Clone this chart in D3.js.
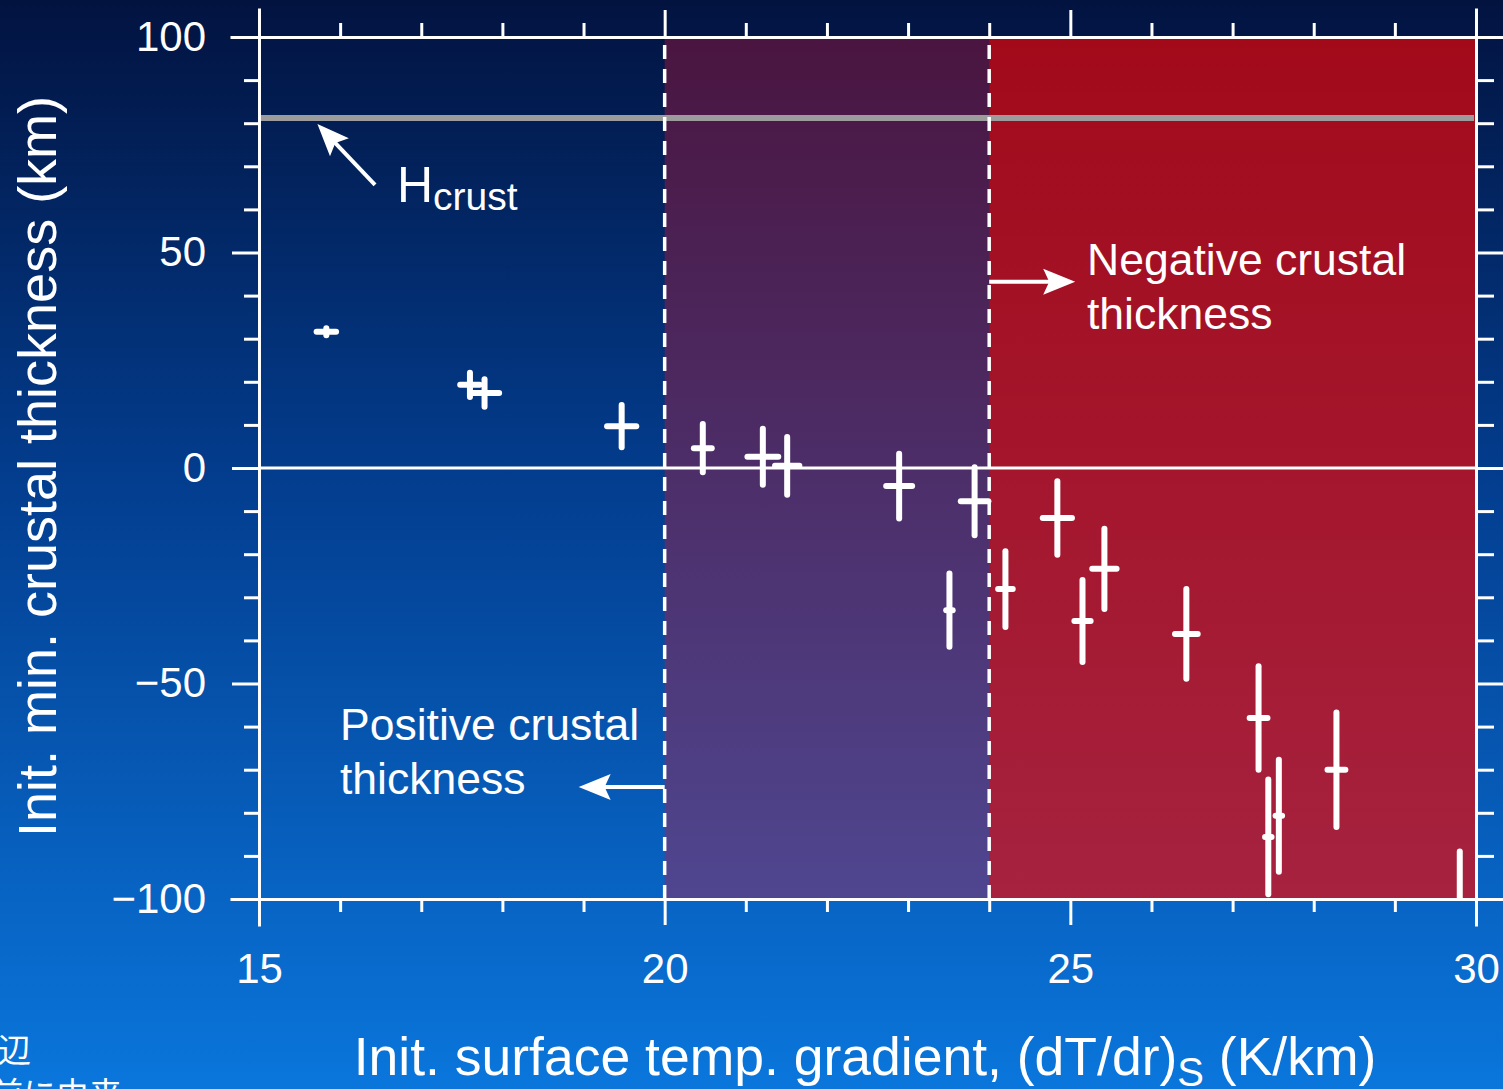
<!DOCTYPE html>
<html><head><meta charset="utf-8">
<script src="https://cdn.jsdelivr.net/npm/d3@7"></script>
<style>html,body{margin:0;padding:0;overflow:hidden;background:#0a4aa0}svg{display:block}</style>
</head><body>
<script>
// ---- data ----
const gradient = [15.83, 17.60, 17.78, 19.47, 20.47, 21.21, 21.51, 22.89, 23.82, 23.51, 24.20, 24.84, 25.15, 25.42, 26.43, 27.32, 27.44, 27.57, 28.28, 29.80];
const gradientErr = [0.12, 0.12, 0.18, 0.18, 0.11, 0.19, 0.15, 0.16, 0.17, 0.04, 0.09, 0.18, 0.10, 0.15, 0.14, 0.11, 0.04, 0.04, 0.11, 0.03];
const thickness = [31.6, 19.3, 17.4, 9.7, 4.6, 2.6, 0.5, -4.2, -7.7, -33.0, -28.1, -11.6, -35.5, -23.4, -38.5, -58.0, -85.6, -80.7, -70.0, -102.0];
const thicknessErr = [0.8, 2.8, 3.2, 4.9, 5.6, 6.5, 6.7, 7.5, 7.9, 8.5, 8.8, 8.5, 9.5, 9.3, 10.4, 12.0, 13.3, 13.0, 13.3, 13.0];
const hCrust = 81.2;
const regionBounds = [20, 24, 30];
const xMajorTicks = [15, 20, 25, 30];
const xMinorTicks = [16, 17, 18, 19, 21, 22, 23, 24, 26, 27, 28, 29];
const yMajorTicks = [100, 50, 0, -50, -100];
const yMinorTicks = [90, 80, 70, 60, 40, 30, 20, 10, -10, -20, -30, -40, -60, -70, -80, -90];

const W = 1503, H = 1089;
const svg = d3.select("body").append("svg").attr("width", W).attr("height", H)
  .style("font-family", "'Liberation Sans', Arial, sans-serif");
const defs = svg.append("defs");

function vgrad(id, stops) {
  const g = defs.append("linearGradient").attr("id", id).attr("x1", 0).attr("y1", 0).attr("x2", 0).attr("y2", 1);
  stops.forEach(([o, c]) => g.append("stop").attr("offset", o).attr("stop-color", c));
}
vgrad("bg", [[0, "#021340"], [0.45, "#033e90"], [1, "#0a76dc"]]);
vgrad("purple", [[0, "#4a1540"], [1, "#4f4690"]]);
vgrad("red", [[0, "#a20a1a"], [1, "#a6223f"]]);

svg.append("rect").attr("width", W).attr("height", H).attr("fill", "url(#bg)");

const x = d3.scaleLinear().domain([15, 30]).range([259, 1476]);
const y = d3.scaleLinear().domain([-100, 100]).range([899, 37]);

defs.append("clipPath").attr("id", "plotclip").append("rect")
  .attr("x", x(15)).attr("y", y(100)).attr("width", x(30) - x(15)).attr("height", y(-100) - y(100));

// shaded regions
svg.append("rect").attr("x", x(regionBounds[0])).attr("y", y(100))
  .attr("width", x(regionBounds[1]) - x(regionBounds[0])).attr("height", y(-100) - y(100)).attr("fill", "url(#purple)");
svg.append("rect").attr("x", x(regionBounds[1])).attr("y", y(100))
  .attr("width", x(regionBounds[2]) - x(regionBounds[1])).attr("height", y(-100) - y(100)).attr("fill", "url(#red)");

// H crust line
svg.append("line").attr("x1", x(15) + 2).attr("x2", x(30) - 2).attr("y1", y(hCrust)).attr("y2", y(hCrust))
  .attr("stroke", "#9c9c9c").attr("stroke-width", 6);

// dashed region borders
[regionBounds[0], regionBounds[1]].forEach(v => {
  svg.append("line").attr("x1", x(v)).attr("x2", x(v)).attr("y1", y(100)).attr("y2", y(-100))
    .attr("stroke", "#fff").attr("stroke-width", 3.5).attr("stroke-dasharray", "14,10").attr("stroke-dashoffset", -8);
});

// axes
function styleAxis(g) {
  g.select(".domain").attr("stroke", "#fff").attr("stroke-width", 3);
  g.selectAll(".tick line").attr("stroke", "#fff").attr("stroke-width", 3);
  g.selectAll(".tick text").attr("fill", "#fff").style("font-size", "42px").style("font-family", "'Liberation Sans', Arial, sans-serif");
}
const fmt = d3.format("");
// left
svg.append("g").attr("transform", `translate(${x(15)},0)`)
  .call(d3.axisLeft(y).tickValues(yMinorTicks).tickSize(15).tickFormat("")).call(styleAxis);
svg.append("g").attr("transform", `translate(${x(15)},0)`)
  .call(d3.axisLeft(y).tickValues(yMajorTicks).tickSize(27).tickPadding(26).tickFormat(fmt)).call(styleAxis);
// right
svg.append("g").attr("transform", `translate(${x(30)},0)`)
  .call(d3.axisRight(y).tickValues(yMinorTicks).tickSize(18).tickFormat("")).call(styleAxis);
svg.append("g").attr("transform", `translate(${x(30)},0)`)
  .call(d3.axisRight(y).tickValues(yMajorTicks).tickSize(28).tickFormat("")).call(styleAxis);
// top
svg.append("g").attr("transform", `translate(0,${y(100)})`)
  .call(d3.axisTop(x).tickValues(xMinorTicks).tickSize(14).tickFormat("")).call(styleAxis);
svg.append("g").attr("transform", `translate(0,${y(100)})`)
  .call(d3.axisTop(x).tickValues(xMajorTicks).tickSize(27).tickFormat("")).call(styleAxis);
// bottom
svg.append("g").attr("transform", `translate(0,${y(-100)})`)
  .call(d3.axisBottom(x).tickValues(xMinorTicks).tickSize(13).tickFormat("")).call(styleAxis);
svg.append("g").attr("transform", `translate(0,${y(-100)})`)
  .call(d3.axisBottom(x).tickValues(xMajorTicks).tickSize(26).tickPadding(28).tickFormat(fmt)).call(styleAxis);
svg.selectAll(".domain").attr("stroke-linecap", "square");

// zero line across
svg.append("line").attr("x1", x(15)).attr("x2", x(30)).attr("y1", y(0)).attr("y2", y(0))
  .attr("stroke", "#fff").attr("stroke-width", 3);

// error bar points
const pts = gradient.map((g, i) => ({ g, ge: gradientErr[i], t: thickness[i], te: thicknessErr[i] }));
const pg = svg.append("g").attr("clip-path", "url(#plotclip)");
pts.forEach(p => {
  pg.append("line").attr("x1", x(p.g)).attr("x2", x(p.g)).attr("y1", y(p.t + p.te)).attr("y2", y(p.t - p.te))
    .attr("stroke", "#fff").attr("stroke-width", 6).attr("stroke-linecap", "round");
  pg.append("line").attr("x1", x(p.g - p.ge)).attr("x2", x(p.g + p.ge)).attr("y1", y(p.t)).attr("y2", y(p.t))
    .attr("stroke", "#fff").attr("stroke-width", 6).attr("stroke-linecap", "round");
});

// arrows
function arrow(x1, y1, x2, y2) {
  const ang = Math.atan2(y2 - y1, x2 - x1);
  const L = 26, Wd = 13;
  const bx = x2 - L * Math.cos(ang), by = y2 - L * Math.sin(ang);
  svg.append("line").attr("x1", x1).attr("y1", y1).attr("x2", bx + 4 * Math.cos(ang)).attr("y2", by + 4 * Math.sin(ang))
    .attr("stroke", "#fff").attr("stroke-width", 4);
  const nx = -Math.sin(ang), ny = Math.cos(ang);
  const back = 6;
  svg.append("path").attr("d",
    `M${x2},${y2} L${bx + nx * Wd - back * Math.cos(ang)},${by + ny * Wd - back * Math.sin(ang)} L${bx},${by} L${bx - nx * Wd - back * Math.cos(ang)},${by - ny * Wd - back * Math.sin(ang)} Z`)
    .attr("fill", "#fff");
}
arrow(x(16.43), y(65.7), x(15.72), y(79.8));
arrow(x(24.0), y(43.2), x(25.06), y(43.2));
arrow(x(20.0), y(-74), x(18.94), y(-74));

// annotation texts
const hT = svg.append("text").attr("x", 397).attr("y", 202).attr("fill", "#fff").style("font-size", "50px");
hT.append("tspan").text("H");
hT.append("tspan").attr("dy", 8).style("font-size", "39px").text("crust");

const negT = svg.append("text").attr("fill", "#fff").style("font-size", "44.5px");
negT.append("tspan").attr("x", 1087).attr("y", 275).text("Negative crustal");
negT.append("tspan").attr("x", 1087).attr("y", 329).text("thickness");

const posT = svg.append("text").attr("fill", "#fff").style("font-size", "44.5px");
posT.append("tspan").attr("x", 340).attr("y", 740).text("Positive crustal");
posT.append("tspan").attr("x", 340).attr("y", 794).text("thickness");

// axis titles
const xt = svg.append("text").attr("x", 865).attr("y", 1075).attr("text-anchor", "middle").attr("fill", "#fff").style("font-size", "53.5px");
xt.append("tspan").text("Init. surface temp. gradient, (dT/dr)");
xt.append("tspan").attr("dy", 11).style("font-size", "40px").text("S");
xt.append("tspan").attr("dy", -11).text(" (K/km)");

svg.append("text").attr("transform", `translate(56,${(98 + 835) / 2}) rotate(-90)`).attr("text-anchor", "middle")
  .attr("fill", "#fff").style("font-size", "54px").text("Init. min. crustal thickness (km)");

// partial Japanese caption at bottom-left
svg.append("text").attr("x", -2).attr("y", 1062).attr("fill", "#fff")
  .style("font-family", "'Noto Sans CJK JP', sans-serif").style("font-size", "33px").text("辺");
svg.append("text").attr("x", -10).attr("y", 1106).attr("fill", "#fff")
  .style("font-family", "'Noto Sans CJK JP', sans-serif").style("font-size", "33px").text("前に由来");
</script>
</body></html>
